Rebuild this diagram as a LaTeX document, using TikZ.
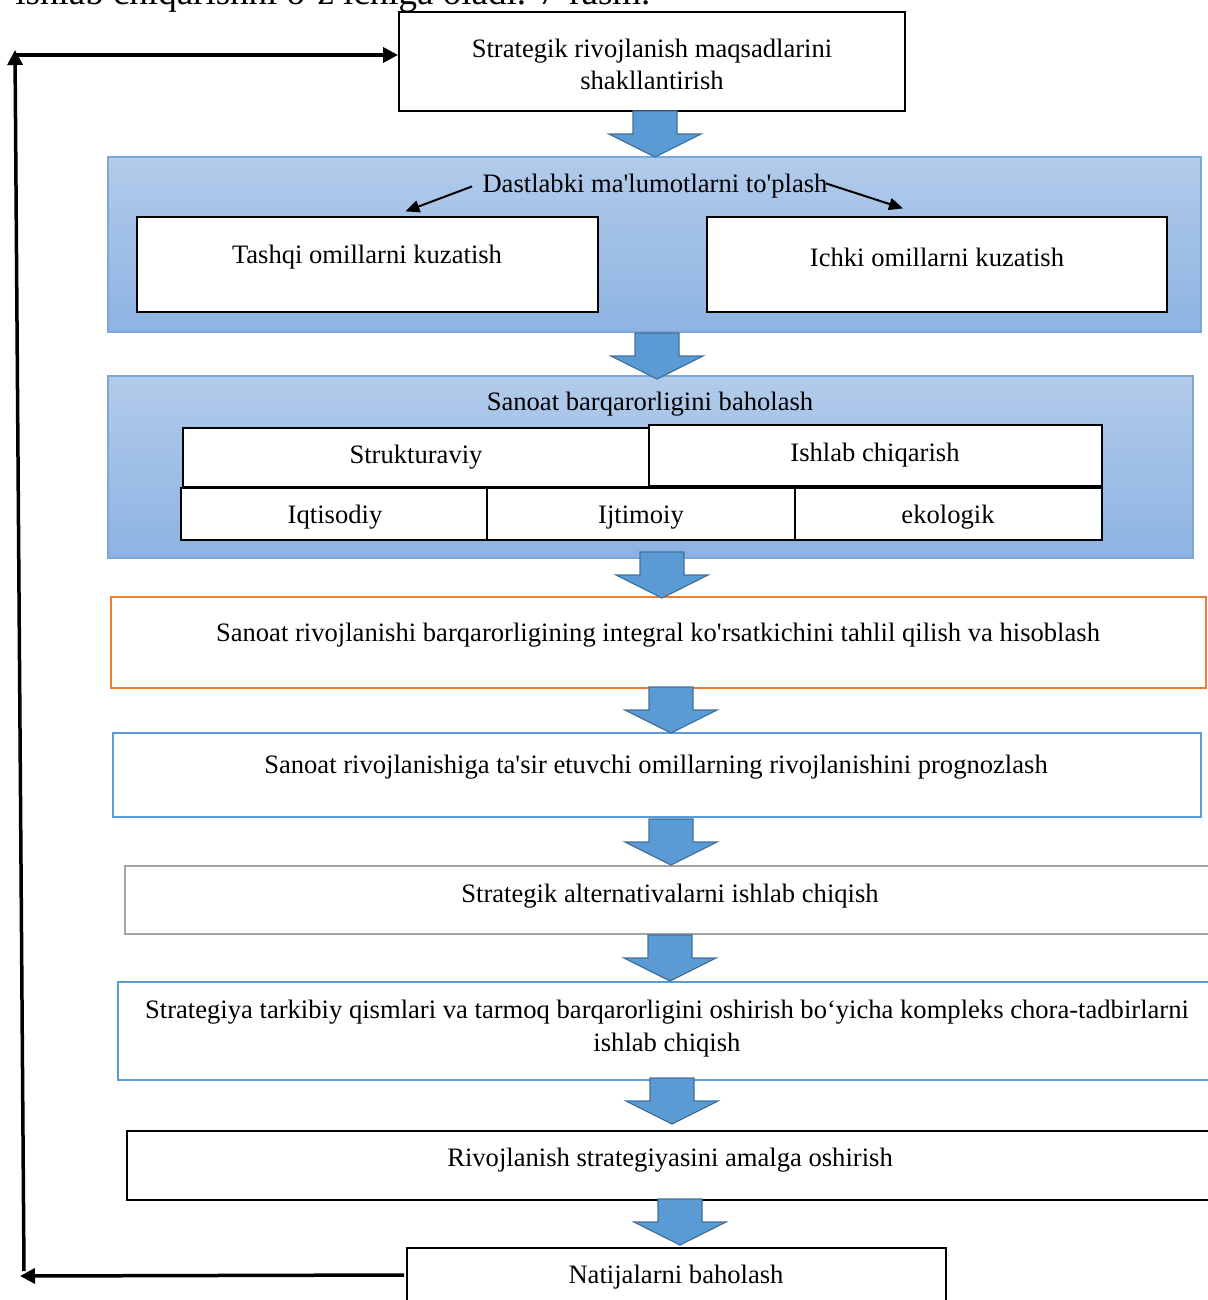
\documentclass[tikz,border=0pt]{standalone}
\usepackage{fontspec}
\setmainfont{Liberation Serif}[Ligatures=TeXOff]
\usetikzlibrary{arrows.meta,fit,calc}

\definecolor{arrblue}{HTML}{5B9BD5}
\definecolor{arrline}{HTML}{41719C}
\definecolor{pantop}{HTML}{B2CBEA}
\definecolor{panbot}{HTML}{8DB3E2}
\definecolor{panline}{HTML}{7EA6D8}
\definecolor{orangeline}{HTML}{ED7D31}
\definecolor{grayline}{HTML}{A5A5A5}

\begin{document}
\begin{tikzpicture}[x=0.5pt, y=-0.5pt,
every node/.style={font=\fontsize{13.3}{16.3}\selectfont},
box/.style={draw, line width=1pt, fill=white, inner sep=0pt},
cell/.style={box, line width=1.1pt},
panel/.style={draw=panline, line width=0.6pt, top color=pantop, bottom color=panbot, inner sep=0pt},
txt/.style={align=center, inner sep=2pt, yshift=-1.2pt},
fb/.style={line width=1.75pt, -{Triangle[length=7.5pt,width=7.5pt]}},
pick/.style={line width=1pt, -{Triangle[length=7pt,width=6pt]}},
downarr/.pic={\draw[draw=arrline, fill=arrblue, line width=0.6pt]
  (-22,0) -- (22,0) -- (22,23) -- (46,23) -- (0,46) -- (-46,23) -- (-22,23) -- cycle;}
]
\useasboundingbox (0,0) rectangle (1208,1300);
\clip (0,0) rectangle (1208,1300);

% text of the page above
\node[anchor=base west, inner sep=0pt, font=\fontsize{18.5}{22}\selectfont] (prev) at (15,5) {ishlab chiqarishni o‘z ichiga oladi. 7-rasm.};

% goals
\node[box, fit={(399,12)(905,111)}] (goal) {};
\node[txt] (goalt) at (652,62) {Strategik rivojlanish maqsadlarini\\shakllantirish};

% data collection
\node[panel, fit={(108,157)(1201,332)}] (data) {};
\node[txt] (datat) at (655,184) {Dastlabki ma'lumotlarni to'plash};
\node[box, line width=0.6pt, fit={(137,217)(598,312)}] (ext) {};
\node[txt] (extt) at (367,255) {Tashqi omillarni kuzatish};
\node[box, line width=0.6pt, fit={(707,217)(1167,312)}] (int) {};
\node[txt] (intt) at (937,255) {Ichki omillarni kuzatish};
\draw[pick] ($(datat.west)+(-6,0)$) -- ($(ext.north)+(38,-5)$);
\draw[pick] ($(datat.east)+(-6,-3)$) -- ($(int.north)+(-34,-8)$);

% stability assessment
\node[panel, fit={(108,376)(1193,558)}] (stab) {};
\node[txt] (stabt) at (650,402) {Sanoat barqarorligini baholash};
\node[cell, fit={(183,428)(649,487)}] (struk) {};
\node[txt] (strukt) at (416,455) {Strukturaviy};
\node[cell, fit={(649,425)(1102,486)}] (prod) {};
\node[txt] (prodt) at (875,453) {Ishlab chiqarish};
\node[cell, fit={(181,488)(487,540)}] (econ) {};
\node[txt] (econt) at (335,515) {Iqtisodiy};
\node[cell, fit={(487,488)(795,540)}] (soc) {};
\node[txt] (soct) at (641,515) {Ijtimoiy};
\node[cell, fit={(795,488)(1102,540)}] (eco) {};
\node[txt] (ecot) at (948,515) {ekologik};

% integral indicator
\node[box, draw=orangeline, fit={(111,597)(1206,688)}] (integ) {};
\node[txt] (integt) at (658,633) {Sanoat rivojlanishi barqarorligining integral ko'rsatkichini tahlil qilish va hisoblash};

% forecast
\node[box, draw=arrblue, fit={(113,733)(1201,817)}] (fore) {};
\node[txt] (foret) at (656,765) {Sanoat rivojlanishiga ta'sir etuvchi omillarning rivojlanishini prognozlash};

% alternatives
\node[box, draw=grayline, line width=1.2pt, fit={(125,866)(1216,934)}] (alt) {};
\node[txt] (altt) at (670,894) {Strategik alternativalarni ishlab chiqish};

% measures
\node[box, draw=arrblue, fit={(118,982)(1216,1080)}] (meas) {};
\node[txt] (meast) at (667,1026) {Strategiya tarkibiy qismlari va tarmoq barqarorligini oshirish bo‘yicha kompleks chora-tadbirlarni\\ishlab chiqish};

% implementation
\node[box, fit={(127,1131)(1216,1200)}] (impl) {};
\node[txt] (implt) at (670,1158) {Rivojlanish strategiyasini amalga oshirish};

% results
\node[box, fit={(407,1248)(946,1304)}] (res) {};
\node[txt] (rest) at (676,1275) {Natijalarni baholash};

% block arrows
\pic at (655,111) {downarr};
\pic at (657,333) {downarr};
\pic at (662,552) {downarr};
\pic at (671,687) {downarr};
\pic at (671,819) {downarr};
\pic at (670,935) {downarr};
\pic at (672,1078) {downarr};
\pic at (680,1199) {downarr};

% feedback loop
\coordinate (lb) at (20,1276);
\coordinate (lv) at (24,1271);
\coordinate (lt) at (15,50);
\coordinate (lh) at (15,55);
\draw[fb] ($(res.west)+(-2,-1)$) -- (lb);
\draw[fb] (lv) -- (lt);
\draw[fb] (lh) -- (goal.west |- lh);

\end{tikzpicture}
\end{document}
